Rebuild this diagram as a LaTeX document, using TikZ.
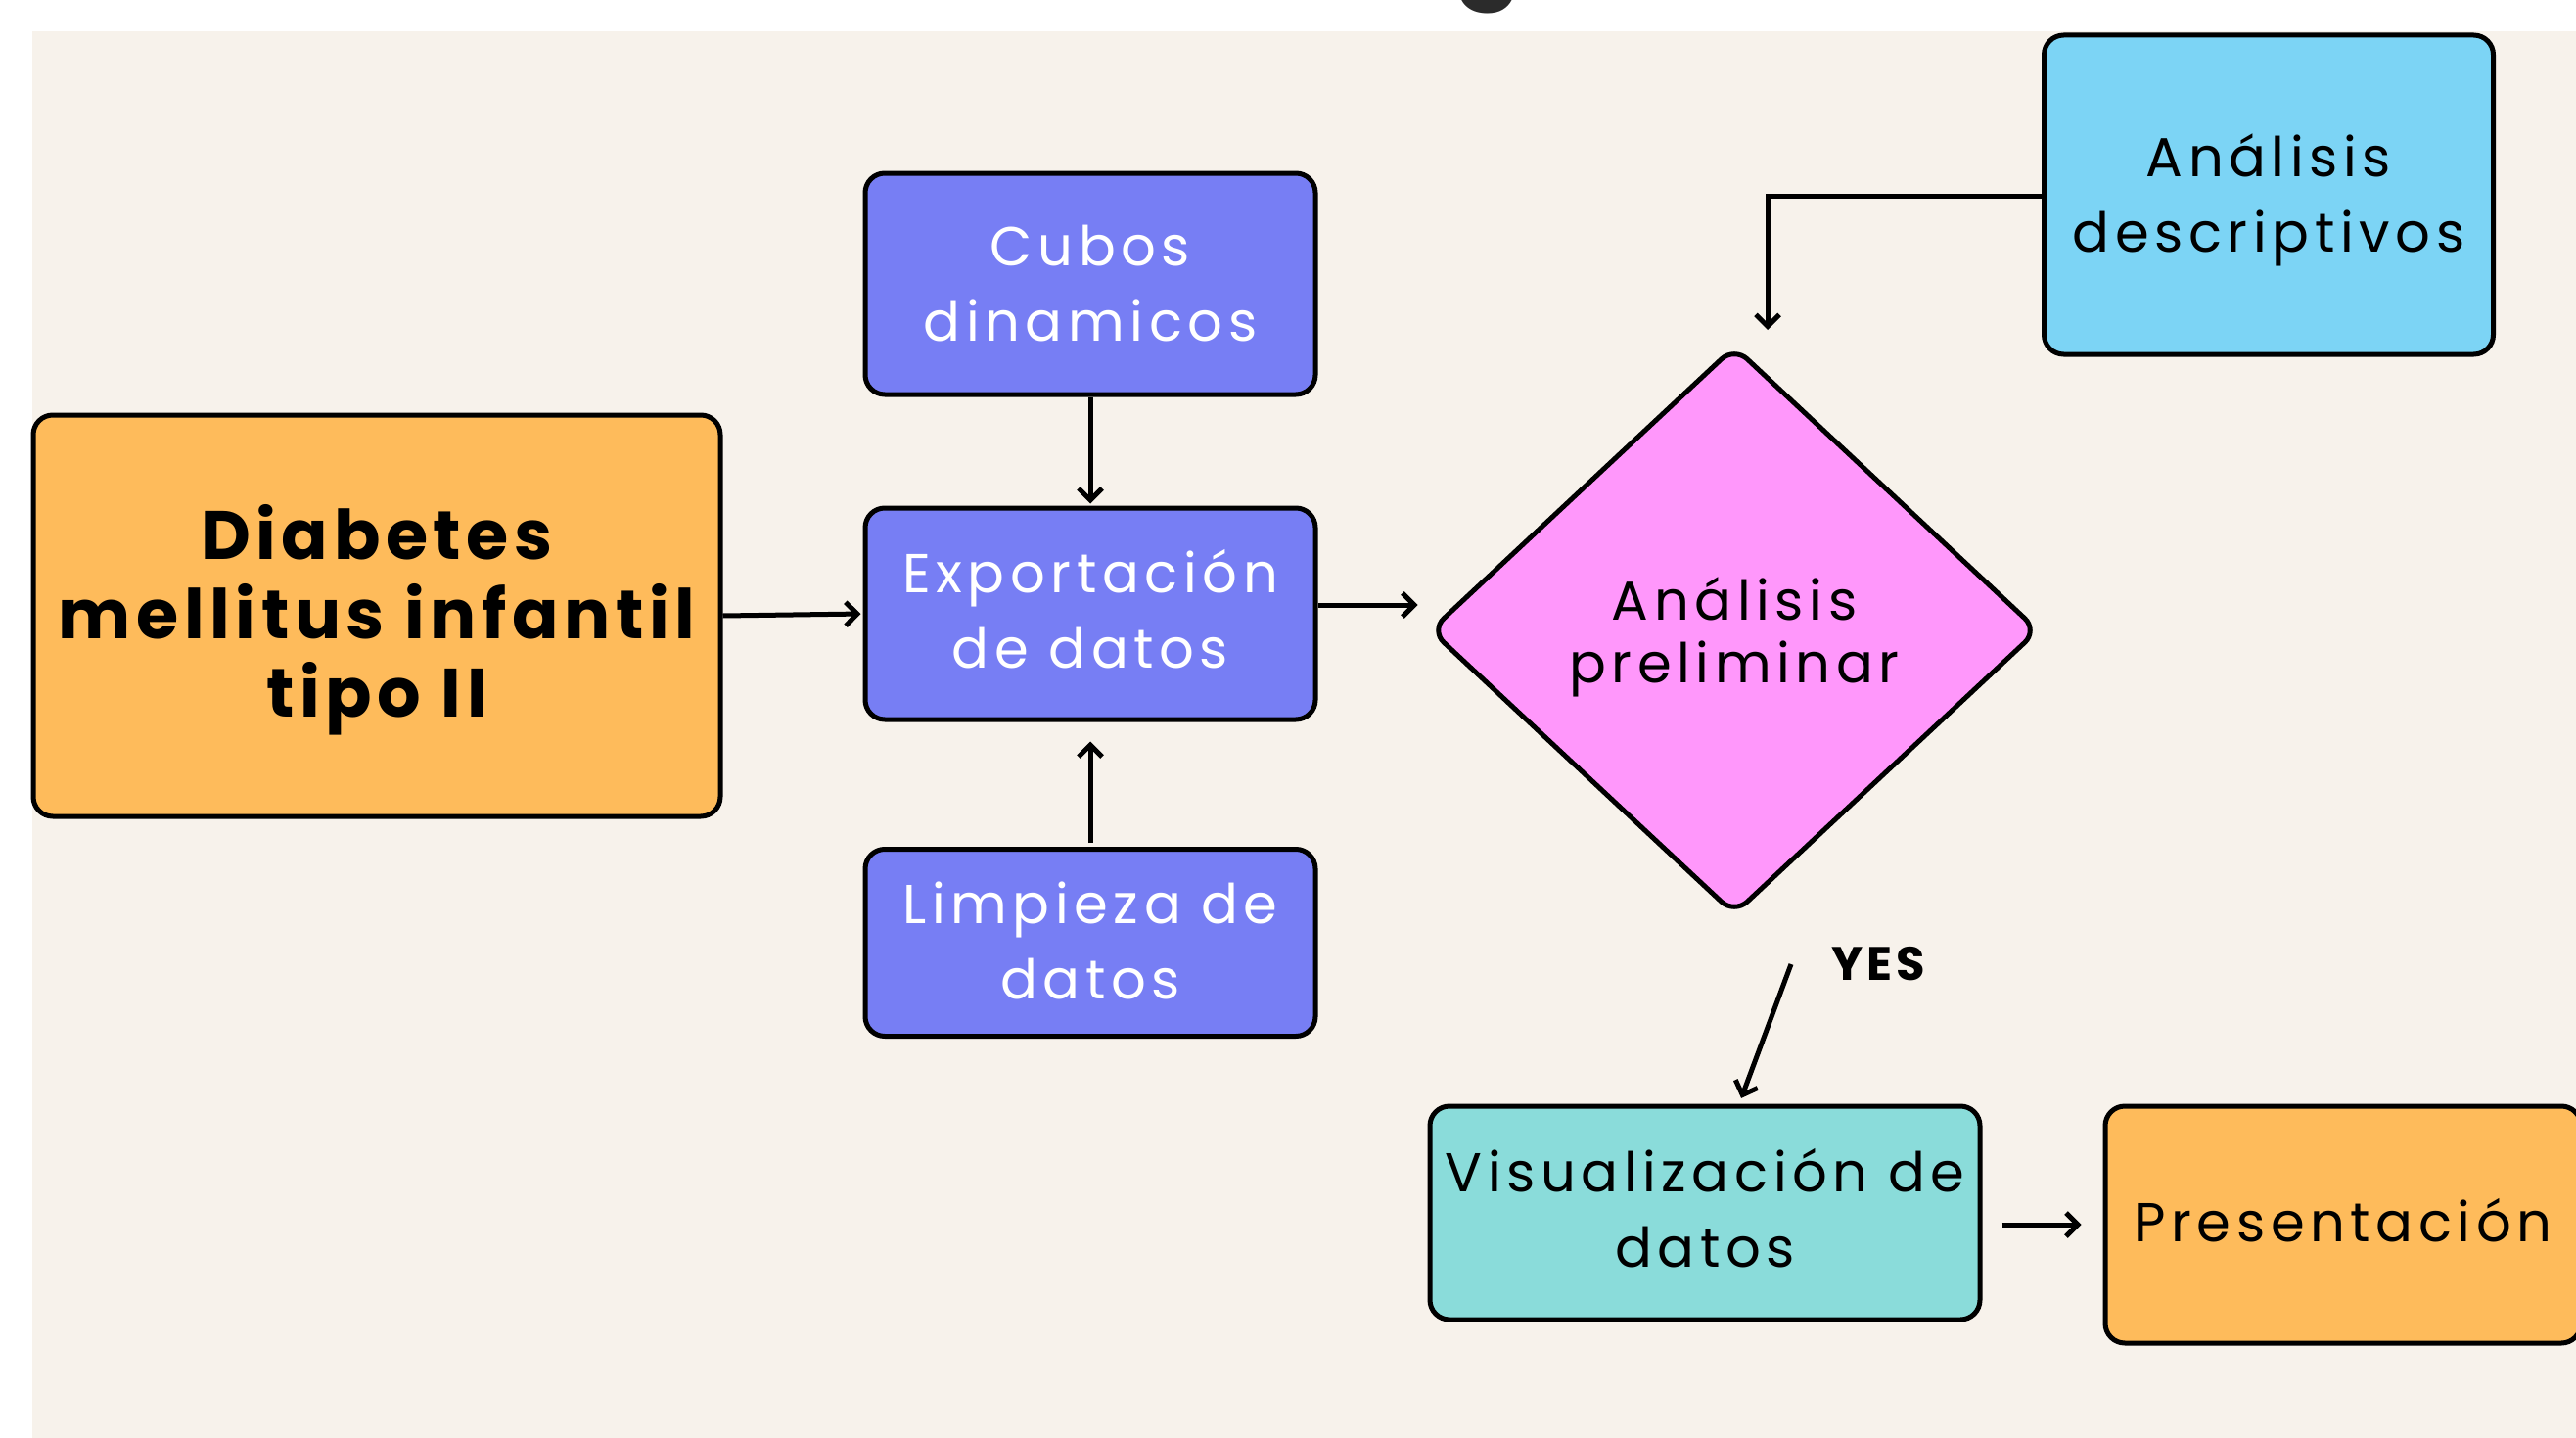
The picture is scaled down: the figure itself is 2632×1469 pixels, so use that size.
\documentclass[tikz,border=0pt]{standalone}
\usepackage{fontspec}
\usetikzlibrary{arrows.meta,shapes.geometric}
\newfontfamily\pop[LetterSpace=10]{Poppins}
\newfontfamily\popb[LetterSpace=8]{Poppins Bold}
\newfontfamily\popt{Poppins Bold}
\definecolor{cream}{HTML}{F7F2EB}
\definecolor{orangebox}{HTML}{FEBB5B}
\definecolor{purplebox}{HTML}{777EF4}
\definecolor{bluebox}{HTML}{7CD4F5}
\definecolor{pinkbox}{HTML}{FF97FB}
\definecolor{tealbox}{HTML}{8ADCDA}
\definecolor{titlegray}{HTML}{2B2B2B}
% shifted multi-line text: #1 = vertical shift (positive = up), #2 = lines
\newcommand{\mytext}[2]{\raisebox{#1}[\height][\depth]{\begin{tabular}{@{}c@{}}#2\end{tabular}}}
\tikzset{
  boxbase/.style={draw=black, line width=5pt, rounded corners=20pt, inner sep=0pt},
  regtext/.style={font=\pop\fontsize{56}{77}\selectfont},
  bluetext/.style={regtext, text=white},
  arr/.style={draw=black, line width=5pt, -{Straight Barb[length=12pt,width=24pt]}},
}
\begin{document}
\begin{tikzpicture}[x=1pt,y=-1pt]
\useasboundingbox (0,0) rectangle (2632,1469);
\fill[white] (0,0) rectangle (2632,1469);
\fill[cream] (33,32) rectangle (2640,1475);
\node[anchor=base, text=titlegray, font=\popt\fontsize{100}{100}\selectfont, inner sep=0pt] (title) at (1520,-13) {g};

% nodes
\node[boxbase, fill=orangebox, minimum width=702, minimum height=410, font=\popb\fontsize{70}{80}\selectfont] (dia) at (385,629)
  {\mytext{-7pt}{Diabetes\\mellitus infantil\\tipo II}};
\node[boxbase, fill=purplebox, bluetext, minimum width=460, minimum height=226] (cubos) at (1114,290)
  {\mytext{-5pt}{Cubos\\dinamicos}};
\node[boxbase, fill=purplebox, bluetext, minimum width=460, minimum height=216] (exp) at (1114,627)
  {\mytext{-2pt}{Exportación\\de datos}};
\node[boxbase, fill=purplebox, bluetext, minimum width=460, minimum height=191] (limp) at (1114,963)
  {\mytext{-3.5pt}{Limpieza de\\datos}};
\node[draw=black, line width=5pt, fill=pinkbox, shape=diamond, rounded corners=18pt, inner sep=0pt,
  minimum width=622, minimum height=581, font=\pop\fontsize{56}{64}\selectfont] (diam) at (1772,644)
  {\mytext{-9pt}{Análisis\\preliminar}};
\node[boxbase, fill=bluebox, regtext, minimum width=459, minimum height=326] (ades) at (2318,199)
  {\mytext{-5pt}{Análisis\\descriptivos}};
\node[boxbase, fill=tealbox, regtext, minimum width=562, minimum height=218] (vis) at (1742,1239)
  {\mytext{-2pt}{Visualización de\\datos}};
\node[boxbase, fill=orangebox, regtext, minimum width=486, minimum height=242] (pres) at (2394,1251)
  {\mytext{-2pt}{Presentación}};
\node[font=\popb\fontsize{48}{48}\selectfont, inner sep=0pt] (yes) at (1919,985) {YES};

% connectors
\draw[arr, shorten >=2pt] (dia.east) -- (exp.west);
\draw[arr, shorten >=2pt] (cubos.south) -- (exp.north);
\draw[arr, shorten <=4pt, shorten >=20pt] (limp.north) -- (exp.south);
\draw[arr, shorten >=10pt] ([yshift=9pt]exp.east) -- ([yshift=9pt]exp.east -| diam.west);
\coordinate (bend) at (1806,200);
\draw[arr, shorten >=14pt] (ades.west |- bend) -- (bend) -- (bend |- diam.north);
\coordinate (yesstart) at (1830,985);
\draw[arr, shorten >=6pt] (yesstart) -- (vis.north -| 1777,0);
\draw[arr, shorten <=20pt, shorten >=22pt] (vis.east |- pres.west) -- (pres.west);
\end{tikzpicture}
\end{document}
